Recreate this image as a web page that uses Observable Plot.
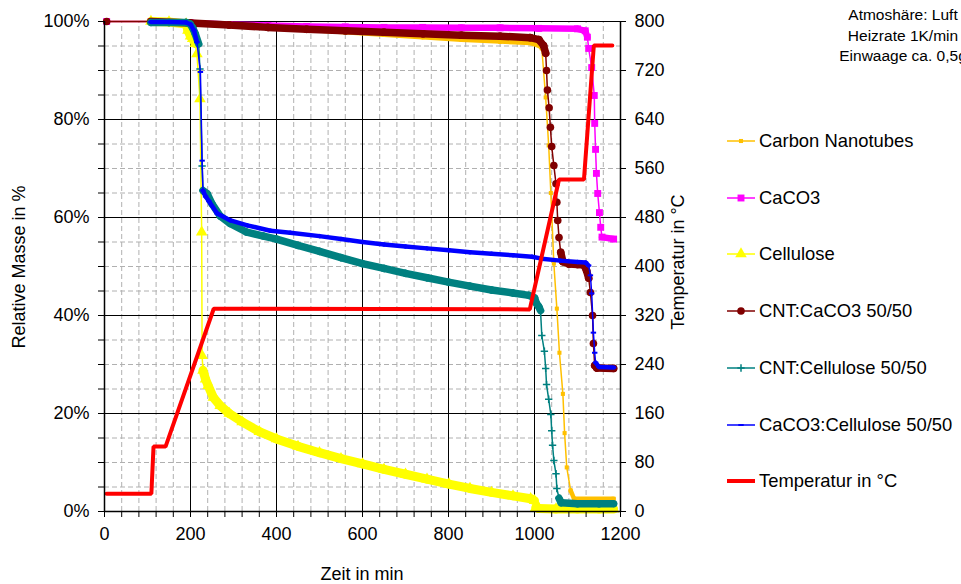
<!DOCTYPE html>
<html><head><meta charset="utf-8">
<script src="https://cdn.jsdelivr.net/npm/d3@7"></script>
<script src="https://cdn.jsdelivr.net/npm/@observablehq/plot@0.6"></script>
<style>
html,body{margin:0;padding:0;background:#fff;}
#wrap{position:relative;width:961px;height:584px;overflow:hidden;font-family:"Liberation Sans",Arial,sans-serif;color:#000;background:#fff;}
#wrap > svg{position:absolute;left:0;top:0;}
.t{position:absolute;white-space:nowrap;font-size:18px;line-height:1;}
.rot{transform:translate(-50%,-50%) rotate(-90deg);}
.leg{position:absolute;left:727px;height:24px;display:flex;align-items:center;font-size:18.4px;white-space:nowrap;}
.leg svg{margin-right:4px;}
#note{position:absolute;left:903px;top:5px;transform:translateX(-50%);text-align:center;font-size:15.5px;line-height:20.5px;white-space:nowrap;}
</style></head>
<body><div id="wrap"></div>
<script>
// ---------- data ----------
const seriesNames = ["Carbon Nanotubes","CaCO3","Cellulose","CNT:CaCO3 50/50","CNT:Cellulose 50/50","CaCO3:Cellulose 50/50"];

const cntTime = [5,108,200,290,380,470,560,650,740,830,920,990,1010,1017,1026,1033,1038,1045,1052,1058,1066,1070,1075,1084,1092,1184];
const cntMass = [100,100,99.8,99.3,98.8,98.3,97.8,97.3,96.8,96.3,95.9,95.6,95.1,94.5,84.5,74.7,65,50.6,41.4,32.4,24,16,9,4.3,2.6,2.6];

const cacoTime = [5,108,200,290,380,470,560,650,740,830,920,1010,1100,1118,1123,1126,1133,1139,1140,1142,1144,1147,1151,1154,1157,1184];
const cacoMass = [100,100,99.7,99.4,99.2,99.0,98.9,98.8,98.8,98.7,98.7,98.6,98.5,98.1,96.8,94.5,90.6,84.9,79.2,73.9,69,64.9,61,58,56,55.6];

const celTime = [108,150,190,194,200,205,211,215,222,226,227,229,235,241,253,269,290,320,360,400,450,500,550,600,650,700,750,801,850,900,950,991,1000,1003,1010,1050,1100,1150,1184];
const celMass = [100,99.9,99.5,98.2,97,96.5,95.5,93.4,84.2,57,31.8,28.8,27,25.7,23.3,21.6,20,18.3,16.3,14.8,13.3,12,10.8,9.7,8.6,7.6,6.6,5.6,4.7,3.9,3.2,2.6,2.2,0.8,0.6,0.5,0.5,0.5,0.5];

const ccTime = [5,108,200,290,380,470,560,650,740,830,920,990,1010,1021,1026,1028,1030,1034,1037,1040,1045,1050,1052,1054,1057,1061,1066,1080,1100,1115,1121,1126,1130,1135,1137,1140,1145,1184];
const ccMass = [100,100,99.7,99.3,98.8,98.4,98.1,97.8,97.5,97.2,97.0,96.7,96.3,95.1,93.5,90,86,82.4,78.4,74.5,70.6,66.9,63.1,59.4,55.9,52.9,51,50.5,50.4,50.3,49.2,47.6,44.7,40,34.3,29.8,29.3,29.2];

const ctTime = [108,150,190,199,205,211,219,222,227,229,233,239,250,269,292,331,370,400,450,500,550,600,650,700,750,800,850,900,950,987,1000,1005,1010,1014,1017,1023,1026,1028,1033,1038,1040,1042,1045,1050,1052,1057,1062,1100,1150,1184];
const ctMass = [99.8,99.8,99.8,99.5,98.7,97.5,95.4,90.3,70.5,65.5,65.2,64.8,62.8,60.3,58.8,57,56.2,55.6,54.3,53.1,51.8,50.6,49.6,48.6,47.7,46.8,46.0,45.2,44.6,44.1,43.6,42.4,41.8,41.0,35.9,32.7,29.2,25.9,22.9,19.8,16.5,13.5,10.4,7.7,4.7,2.7,1.8,1.6,1.6,1.6];

const ccelTime = [108,150,190,200,208,215,223,227,229,235,243,262,293,332,386,432,500,550,600,650,700,750,801,850,900,950,994,1017,1060,1100,1119,1126,1130,1133,1137,1140,1142,1150,1184];
const ccelMass = [99.9,99.9,99.8,99.4,98.2,95.8,89.7,71.6,65.5,64.3,63.3,60.8,59.4,58.4,57.3,56.9,56.2,55.6,55.0,54.5,54.1,53.7,53.3,52.9,52.6,52.3,52.0,51.6,51.2,50.9,50.8,50.2,48.2,44.5,36.5,32.4,30.4,29.5,29.4];

const tempName = "Temperatur in °C";
const tempTime = [5,109,114,142,254,989,1057,1115,1138,1181];
const tempC    = [29,29,106,106,331,330,542,542,761,761];

const xTickLabels = [0,200,400,600,800,1000,1200];
const yLeftLabels = [0,20,40,60,80,100];
const yRightLabels = [0,80,160,240,320,400,480,560,640,720,800];
const noteLines = ["Atmoshäre: Luft","Heizrate 1K/min","Einwaage ca. 0,5g"];

// ---------- styles ----------
const dashSymbol = {draw(ctx, size){ const w = Math.sqrt(size)*1.7, h = 2; ctx.rect(-w/2, -h/2, w, h); }};
const styles = [
  {color:"#FFC000", symbol:"square",  r:2.3, band:4.5, fill:true},
  {color:"#FF00FF", symbol:"square",  r:3.9, band:6.5, fill:true},
  {color:"#FFFF00", symbol:"triangle",r:4.3, band:9,   fill:true},
  {color:"#800000", symbol:"circle",  r:3.8, band:7.5, fill:true},
  {color:"#008080", symbol:"plus",    r:2.5, band:7.5, fill:false},
  {color:"#0000FF", symbol:dashSymbol,r:1.8, band:4.5, fill:true}
];
const seriesData = [[cntTime,cntMass],[cacoTime,cacoMass],[celTime,celMass],[ccTime,ccMass],[ctTime,ctMass],[ccelTime,ccelMass]];

function rowsOf(T, V){ return T.map((t,i)=>({t, v:V[i]})); }
function bandSegs(T, V){
  const s = [];
  for (let i=0;i<T.length-1;i++){
    const dx = T[i+1]-T[i], dy = V[i+1]-V[i];
    if (dx < 100 && Math.abs(dy)/dx < 0.4) s.push({x1:T[i], y1:V[i], x2:T[i+1], y2:V[i+1]});
  }
  return s;
}

const minorGrid = () => ({stroke:"#b0b0b0", strokeOpacity:1, strokeDasharray:"5,3", strokeWidth:1});
const marks = [
  Plot.ruleX(d3.range(0,1201,40), {...minorGrid(), y1:0, y2:100}),
  Plot.ruleY(d3.range(0,101,5), {...minorGrid(), x1:0, x2:1200}),
  Plot.ruleX(xTickLabels, {stroke:"#000", strokeWidth:1, y1:0, y2:100}),
  Plot.ruleY(yLeftLabels, {stroke:"#000", strokeWidth:1, x1:0, x2:1200})
];
seriesData.forEach(([T,V], k) => {
  const st = styles[k];
  const rows = rowsOf(T,V);
  marks.push(Plot.line(rows, {x:"t", y:"v", stroke:st.color, strokeWidth:1.5}));
  marks.push(Plot.link(bandSegs(T,V), {x1:"x1", y1:"y1", x2:"x2", y2:"y2", stroke:st.color, strokeWidth:st.band, strokeLinecap:"round"}));
  marks.push(Plot.dot(rows, st.fill
    ? {x:"t", y:"v", symbol:st.symbol, r:st.r, fill:st.color, stroke:"none"}
    : {x:"t", y:"v", symbol:st.symbol, r:st.r, fill:"none", stroke:st.color, strokeWidth:1.5}));
});
marks.push(Plot.line(rowsOf(tempTime,tempC), {x:"t", y:d=>d.v/8, stroke:"#FF0000", strokeWidth:4, strokeLinejoin:"miter"}));
marks.push(
  Plot.ruleX([0,1200], {stroke:"#000", strokeWidth:1.5, y1:0, y2:100}),
  Plot.ruleY([0], {stroke:"#000", strokeWidth:1.5, x1:0, x2:1200}),
  Plot.axisX(d3.range(0,1201,40), {tickFormat:d => xTickLabels.includes(d) ? String(d) : "", tickSize:6, tickPadding:10, fontSize:18, label:null}),
  Plot.axisY(d3.range(0,101,5), {anchor:"left", tickFormat:d => yLeftLabels.includes(d) ? d+"%" : "", tickSize:6, tickPadding:9, fontSize:18, label:null}),
  Plot.axisY(yRightLabels.map(c=>c/8), {anchor:"right", tickFormat:d => String(Math.round(d*8)), tickSize:5, tickPadding:9, fontSize:18, label:null})
);

const chart = Plot.plot({
  width:961, height:584,
  marginLeft:104, marginRight:341, marginTop:21, marginBottom:73,
  x:{domain:[0,1200]}, y:{domain:[0,100]},
  style:{fontFamily:'"Liberation Sans", Arial, sans-serif', fontSize:"18px", color:"#000", background:"#fff", overflow:"visible"},
  marks
});
const wrap = document.getElementById("wrap");
wrap.appendChild(chart);

// axis titles
function addText(txt, cls, css){ const d=document.createElement("div"); d.className="t "+cls; d.textContent=txt; Object.assign(d.style, css); wrap.appendChild(d); return d; }
addText("Relative Masse in %", "rot", {left:"19px", top:"267px"});
addText("Temperatur in °C", "rot", {left:"678px", top:"262px"});
addText("Zeit in min", "", {left:"362px", top:"565px", transform:"translateX(-50%)"});

// note
const note = document.createElement("div"); note.id="note";
note.innerHTML = noteLines.join("<br>"); wrap.appendChild(note);

// legend
const legItems = seriesNames.map((n,k)=>({name:n, st:styles[k]})).concat([{name:tempName, st:{color:"#FF0000", temp:true}}]);
legItems.forEach((it,i) => {
  const row = document.createElement("div"); row.className="leg";
  row.style.top = (129 + i*56.7) + "px";
  const svg = d3.create("svg").attr("width",28).attr("height",24);
  svg.append("line").attr("x1",0).attr("x2",28).attr("y1",12).attr("y2",12)
     .attr("stroke",it.st.color).attr("stroke-width", it.st.temp ? 4 : 1.5);
  if (!it.st.temp){
    const symMap = {square:d3.symbolSquare, triangle:d3.symbolTriangle, circle:d3.symbolCircle, plus:d3.symbolPlus};
    const sym = typeof it.st.symbol === "string" ? symMap[it.st.symbol] : it.st.symbol;
    const p = svg.append("path").attr("transform","translate(14,12)").attr("d", d3.symbol(sym, Math.PI*it.st.r*it.st.r)());
    if (it.st.fill) p.attr("fill", it.st.color); else p.attr("fill","none").attr("stroke",it.st.color).attr("stroke-width",1.5);
  }
  row.appendChild(svg.node());
  const sp = document.createElement("span"); sp.textContent = it.name; row.appendChild(sp);
  wrap.appendChild(row);
});
</script></body></html>
